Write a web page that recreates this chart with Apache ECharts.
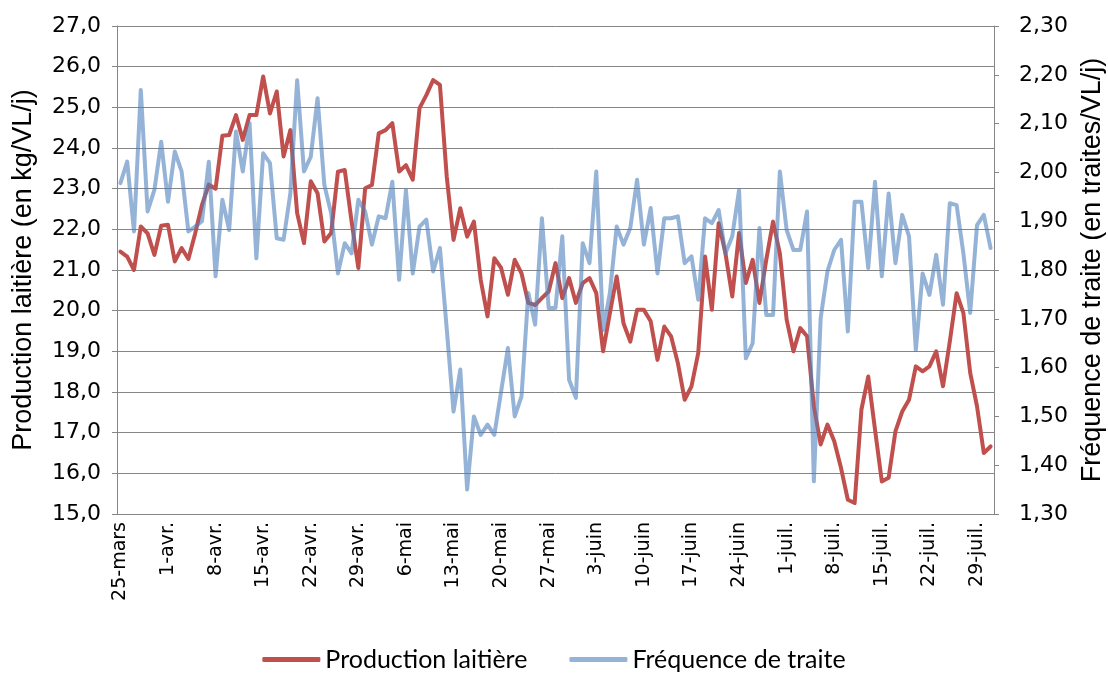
<!DOCTYPE html>
<html>
<head>
<meta charset="utf-8">
<script src="https://cdn.jsdelivr.net/npm/echarts@6/dist/echarts.min.js"></script>
<style>
html,body{margin:0;padding:0;background:#fff;}
#chart{width:1108px;height:675px;}
</style>
</head>
<body>
<div id="chart"></div>
<script>
// Categories: daily dates from 25-mars to 31-juil.
const monthNames = ['mars', 'avr.', 'mai', 'juin', 'juil.'];
const monthFirstDay = [25, 1, 1, 1, 1];
const monthLastDay = [31, 30, 31, 30, 31];
const categories = [];
for (let m = 0; m < monthNames.length; m++) {
  for (let d = monthFirstDay[m]; d <= monthLastDay[m]; d++) {
    categories.push(d + '-' + monthNames[m]);
  }
}

// Production laitière (kg/VL/j)
const production = [
  21.45, 21.33, 21.00, 22.07, 21.90, 21.37, 22.09, 22.11, 21.21, 21.54,
  21.27, 21.90, 22.60, 23.10, 23.00, 24.30, 24.32, 24.81, 24.20, 24.81,
  24.81, 25.76, 24.85, 25.39, 23.79, 24.44, 22.40, 21.66, 23.18, 22.89,
  21.70, 21.91, 23.42, 23.46, 22.20, 21.05, 23.01, 23.09, 24.36, 24.44,
  24.61, 23.42, 23.58, 23.22, 24.98, 25.30, 25.67, 25.55, 23.30, 21.74,
  22.52, 21.82, 22.19, 20.76, 19.86, 21.29, 21.05, 20.39, 21.25, 20.92,
  20.19, 20.14, 20.31, 20.47, 21.17, 20.31, 20.80, 20.19, 20.68, 20.80,
  20.43, 19.00, 19.94, 20.84, 19.69, 19.24, 20.02, 20.02, 19.74, 18.79,
  19.61, 19.37, 18.71, 17.81, 18.14, 18.96, 21.33, 20.02, 22.15, 21.41,
  20.35, 21.91, 20.68, 21.25, 20.19, 21.25, 22.19, 21.41, 19.78, 19.00,
  19.57, 19.37, 17.65, 16.71, 17.20, 16.79, 16.13, 15.35, 15.27, 17.57,
  18.38, 17.07, 15.80, 15.89, 17.03, 17.52, 17.81, 18.63, 18.51, 18.63,
  19.00, 18.14, 19.24, 20.43, 19.94, 18.47, 17.65, 16.50, 16.66
];

// Fréquence de traite (traites/VL/j)
const frequence = [
  1.978, 2.022, 1.879, 2.169, 1.920, 1.964, 2.063, 1.940, 2.043, 2.002,
  1.879, 1.889, 1.900, 2.022, 1.787, 1.944, 1.882, 2.084, 2.002, 2.101,
  1.824, 2.039, 2.019, 1.865, 1.862, 1.957, 2.189, 2.002, 2.032, 2.152,
  1.974, 1.916, 1.793, 1.855, 1.834, 1.944, 1.920, 1.852, 1.910, 1.906,
  1.981, 1.780, 1.964, 1.793, 1.889, 1.903, 1.797, 1.845, 1.680, 1.510,
  1.596, 1.350, 1.500, 1.462, 1.483, 1.462, 1.551, 1.640, 1.500, 1.541,
  1.753, 1.688, 1.906, 1.722, 1.722, 1.869, 1.575, 1.538, 1.855, 1.814,
  2.002, 1.677, 1.753, 1.889, 1.852, 1.886, 1.985, 1.852, 1.927, 1.793,
  1.906, 1.906, 1.910, 1.814, 1.828, 1.739, 1.906, 1.896, 1.923, 1.834,
  1.869, 1.964, 1.619, 1.650, 1.886, 1.708, 1.708, 2.002, 1.882, 1.841,
  1.841, 1.920, 1.367, 1.701, 1.797, 1.841, 1.862, 1.674, 1.940, 1.940,
  1.804, 1.981, 1.787, 1.957, 1.814, 1.913, 1.869, 1.636, 1.793, 1.749,
  1.831, 1.729, 1.937, 1.933, 1.834, 1.712, 1.892, 1.913, 1.845
];

const seriesNames = ['Production laitière', 'Fréquence de traite'];
const leftAxisTitle = 'Production laitière (en kg/VL/j)';
const rightAxisTitle = 'Fréquence de traite (en traites/VL/j)';

const axisGray = '#868686';
const chart = echarts.init(document.getElementById('chart'), null, {renderer: 'canvas'});
chart.setOption({
  animation: false,
  backgroundColor: '#ffffff',
  grid: {left: 117, right: 114, top: 26, bottom: 161, containLabel: false, outerBoundsMode: 'none'},
  legend: {
    top: 642,
    left: 'center',
    itemWidth: 58,
    itemHeight: 5,
    itemGap: 42,
    icon: 'roundRect',
    textStyle: {fontFamily: 'Lato', fontSize: 25, color: '#000'},
    data: seriesNames
  },
  xAxis: {
    type: 'category',
    data: categories,
    boundaryGap: true,
    axisLine: {lineStyle: {color: axisGray, width: 1}},
    axisTick: {interval: 6, length: 5, lineStyle: {color: axisGray}},
    axisLabel: {
      interval: 6, rotate: 90, margin: 8,
      fontFamily: 'DejaVu Sans', fontSize: 19, color: '#000'
    },
    splitLine: {show: false}
  },
  yAxis: [
    {
      type: 'value', min: 15, max: 27, interval: 1,
      name: leftAxisTitle, nameLocation: 'middle', nameRotate: 90, nameGap: 80,
      nameTextStyle: {fontFamily: 'Liberation Sans', fontSize: 27, color: '#000'},
      axisLine: {show: true, lineStyle: {color: axisGray}},
      axisTick: {show: true, length: 5, lineStyle: {color: axisGray}},
      axisLabel: {
        margin: 16, fontFamily: 'DejaVu Sans', fontSize: 22, color: '#000',
        formatter: v => v.toFixed(1).replace('.', ',')
      },
      splitLine: {show: true, lineStyle: {color: axisGray, width: 1}}
    },
    {
      type: 'value', min: 1.3, max: 2.3, interval: 0.1,
      name: rightAxisTitle, nameLocation: 'middle', nameRotate: 90, nameGap: 81,
      nameTextStyle: {fontFamily: 'Liberation Sans', fontSize: 27, color: '#000'},
      axisLine: {show: true, lineStyle: {color: axisGray}},
      axisTick: {show: true, length: 5, lineStyle: {color: axisGray}},
      axisLabel: {
        margin: 25, fontFamily: 'DejaVu Sans', fontSize: 22, color: '#000',
        formatter: v => v.toFixed(2).replace('.', ',')
      },
      splitLine: {show: false}
    }
  ],
  series: [
    {
      name: seriesNames[0], type: 'line', yAxisIndex: 0,
      data: production, showSymbol: false, symbol: 'none',
      color: '#C0504D',
      lineStyle: {color: '#C0504D', width: 4, cap: 'round', join: 'round'},
      z: 2
    },
    {
      name: seriesNames[1], type: 'line', yAxisIndex: 1,
      data: frequence, showSymbol: false, symbol: 'none',
      color: 'rgba(79,129,189,0.6)',
      lineStyle: {color: 'rgba(79,129,189,0.6)', width: 4, cap: 'round', join: 'round'},
      z: 3
    }
  ]
});
</script>
</body>
</html>
